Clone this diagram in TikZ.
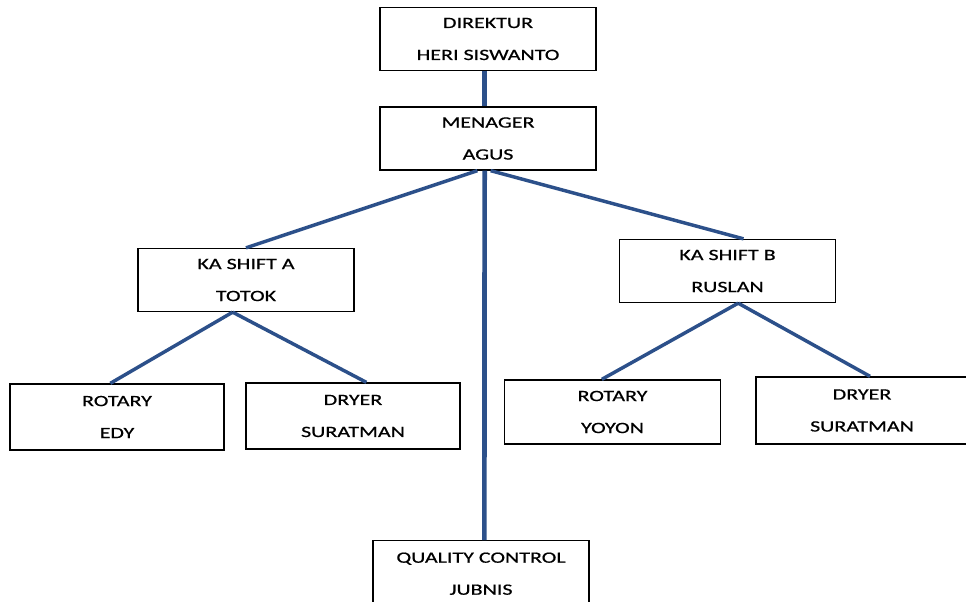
\documentclass[tikz,border=0pt]{standalone}
\usepackage{fontspec}
\setmainfont{Carlito}[FakeStretch=1.4, FakeBold=0.6]
\definecolor{linkblue}{RGB}{44,80,138}
\tikzset{
  box/.style={draw=black, line width=1pt, fill=white, rectangle, align=center,
    minimum width=216*0.75pt, minimum height=63*0.75pt, inner sep=0pt,
    font=\fontsize{11.8}{13}\selectfont},
  trunk/.style={linkblue, line width=3.5pt},
  branch/.style={linkblue, line width=2.6pt}
}
\newcommand{\twolines}[2]{#1\\[11pt]#2}
\begin{document}
\begin{tikzpicture}[x=0.75pt, y=-0.75pt]
        \clip (0,0) rectangle (966,602);
        \fill[white] (0,0) rectangle (966,602);

        \node[box] (dir) at (488,39) {\twolines{DIREKTUR}{HERI SISWANTO}};
        \node[box] (men) at (488,138.5) {\twolines{MENAGER}{AGUS}};
        \node[box] (shA) at (246,280) {\twolines{KA SHIFT A}{TOTOK}};
        \node[box] (shB) at (727.5,271) {\twolines{KA SHIFT B}{RUSLAN}};
        \node[box, minimum width=214*0.75pt, minimum height=66*0.75pt] (rotA) at (117,417) {\twolines{ROTARY}{EDY}};
        \node[box, minimum width=214*0.75pt, minimum height=66*0.75pt] (dryA) at (353,416) {\twolines{DRYER}{SURATMAN}};
        \node[box, minimum height=64*0.75pt] (rotB) at (612.5,412) {\twolines{ROTARY}{YOYON}};
        \node[box, minimum width=212*0.75pt, minimum height=67*0.75pt] (dryB) at (862,410.5) {\twolines{DRYER}{SURATMAN}};
        \node[box, minimum height=66*0.75pt, anchor=north] (qc) at (481,540) {\twolines{QUALITY CONTROL}{JUBNIS}};

        \draw[trunk] ([xshift=-2.5]dir.south) -- ([xshift=-2.5]men.north);
        \draw[trunk] ([xshift=-2.5]men.south) -- ([xshift=2.5]qc.north);
        \draw[branch] ([xshift=-8]men.south) -- (shA.north);
        \draw[branch] ([xshift=2]men.south) -- ([xshift=12]shB.north);
        \draw[branch] ([xshift=-10]shA.south) -- ([xshift=-5]rotA.north);
        \draw[branch] ([xshift=-10]shA.south) -- ([xshift=10]dryA.north);
        \draw[branch] ([xshift=8]shB.south) -- ([xshift=-8]rotB.north);
        \draw[branch] ([xshift=8]shB.south) -- ([xshift=6]dryB.north);
\end{tikzpicture}
\end{document}
